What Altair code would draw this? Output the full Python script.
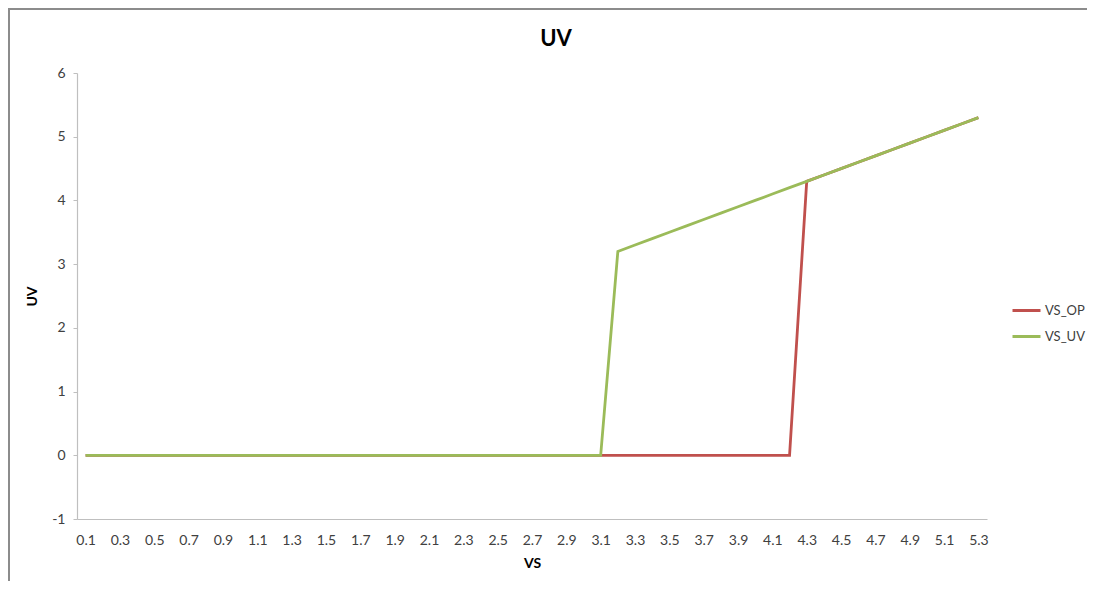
import altair as alt
import pandas as pd

categories = ["0.1", "0.2", "0.3", "0.4", "0.5", "0.6", "0.7", "0.8", "0.9", "1.0",
              "1.1", "1.2", "1.3", "1.4", "1.5", "1.6", "1.7", "1.8", "1.9", "2.0",
              "2.1", "2.2", "2.3", "2.4", "2.5", "2.6", "2.7", "2.8", "2.9", "3.0",
              "3.1", "3.2", "3.3", "3.4", "3.5", "3.6", "3.7", "3.8", "3.9", "4.0",
              "4.1", "4.2", "4.3", "4.4", "4.5", "4.6", "4.7", "4.8", "4.9", "5.0",
              "5.1", "5.2", "5.3"]

vs_op = [0, 0, 0, 0, 0, 0, 0, 0, 0, 0,
         0, 0, 0, 0, 0, 0, 0, 0, 0, 0,
         0, 0, 0, 0, 0, 0, 0, 0, 0, 0,
         0, 0, 0, 0, 0, 0, 0, 0, 0, 0,
         0, 0, 4.3, 4.4, 4.5, 4.6, 4.7, 4.8, 4.9, 5.0,
         5.1, 5.2, 5.3]

vs_uv = [0, 0, 0, 0, 0, 0, 0, 0, 0, 0,
         0, 0, 0, 0, 0, 0, 0, 0, 0, 0,
         0, 0, 0, 0, 0, 0, 0, 0, 0, 0,
         0, 3.2, 3.3, 3.4, 3.5, 3.6, 3.7, 3.8, 3.9, 4.0,
         4.1, 4.2, 4.3, 4.4, 4.5, 4.6, 4.7, 4.8, 4.9, 5.0,
         5.1, 5.2, 5.3]

series_names = ["VS_OP", "VS_UV"]
series_colors = ["#C0504D", "#9BBB59"]
tick_labels = categories[::2]
y_ticks = [-1, 0, 1, 2, 3, 4, 5, 6]

rows = []
for name, vals in zip(series_names, [vs_op, vs_uv]):
    for i, (c, v) in enumerate(zip(categories, vals)):
        rows.append({"VS": c, "UV": v, "series": name, "order": i})
df = pd.DataFrame(rows)

FONT = "Lato"
W, H = 910, 446
PL, PT, PR, PB = 69, 65, 100, 62

lines = alt.Chart(df).mark_line(strokeWidth=2.8).encode(
    x=alt.X("VS:O", sort=categories,
            scale=alt.Scale(type="point", padding=0.5),
            axis=alt.Axis(values=tick_labels, labelAngle=0, ticks=False,
                          labelPadding=14, labelFontSize=14, labelColor="#404040",
                          domainColor="#BFBFBF", domainWidth=1.2,
                          title="VS", titleFontSize=14, titleFontWeight="bold",
                          titleColor="#000000", titlePadding=9)),
    y=alt.Y("UV:Q", scale=alt.Scale(domain=[-1, 6], nice=False, zero=False),
            axis=alt.Axis(values=y_ticks, grid=False, tickSize=4,
                          tickColor="#BFBFBF", domainColor="#BFBFBF", domainWidth=1.2,
                          labelPadding=8, labelFontSize=14, labelColor="#404040",
                          labelExpr="replace(datum.label, '\u2212', '-')",
                          title="UV", titleFontSize=14, titleFontWeight="bold",
                          titleColor="#000000", titlePadding=12)),
    color=alt.Color("series:N",
                    scale=alt.Scale(domain=series_names, range=series_colors),
                    legend=alt.Legend(title=None, orient="none", legendX=934, legendY=222,
                                      symbolType="stroke", symbolSize=784,
                                      symbolStrokeWidth=3, labelFontSize=13,
                                      labelColor="#404040", rowPadding=3,
                                      labelOffset=3, padding=0)),
    detail="series:N",
    order="order:Q",
)

frame = alt.Chart(alt.Data(values=[{}])).mark_rect(
    fill=None, stroke="#8C8C8C", strokeWidth=2
).encode(
    x=alt.value(-PL + 1), x2=alt.value(W + PR + 40),
    y=alt.value(-PT + 1), y2=alt.value(H + PB + 40),
)

chart = alt.layer(frame, lines).properties(
    width=W, height=H,
    title=alt.Title("UV", fontSize=22, fontWeight="bold", font=FONT,
                    color="#000000", offset=0, dy=43, dx=24, anchor="middle"),
    padding={"left": PL, "top": PT, "right": PR, "bottom": PB},
    autosize=alt.AutoSizeParams(type="none"),
).configure(font=FONT).configure_view(stroke=None).configure_axis(
    labelFont=FONT, titleFont=FONT
).configure_legend(labelFont=FONT)

chart.save("out.html", embed_options={"renderer": "svg", "actions": False})
